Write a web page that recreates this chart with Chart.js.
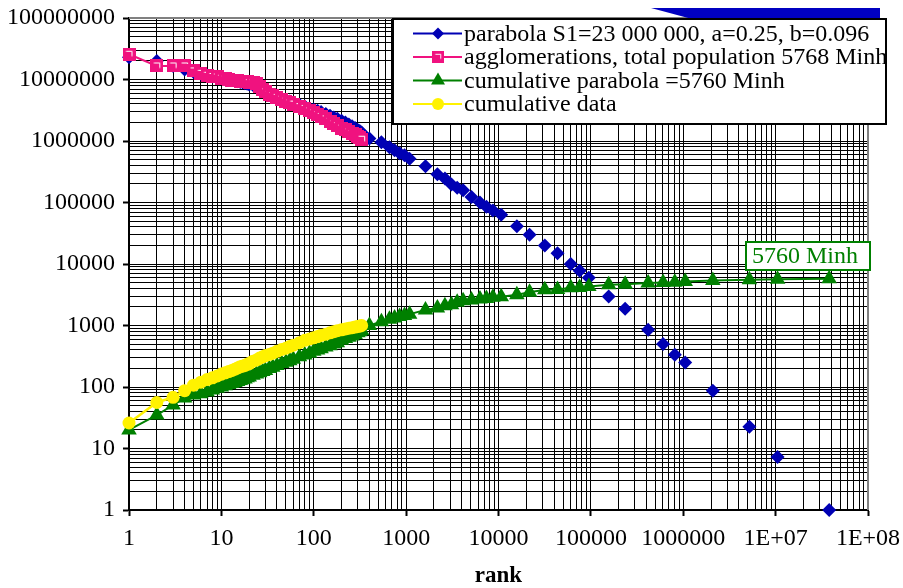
<!DOCTYPE html>
<html><head><meta charset="utf-8">
<script src="https://cdn.jsdelivr.net/npm/chart.js@4/dist/chart.umd.min.js"></script>
<style>html,body{margin:0;padding:0;background:#fff;}canvas{display:block;}</style>
</head><body>
<canvas id="c" width="903" height="588"></canvas>
<script>
// ---------- data ----------
const xTickLabels = ['1','10','100','1000','10000','100000','1000000','1E+07','1E+08'];
const yTickLabels = ['1','10','100','1000','10000','100000','1000000','10000000','100000000'];
const seriesLabels = [
  'parabola S1=23 000 000, a=0.25, b=0.096',
  'agglomerations, total population 5768 Minh',
  'cumulative parabola =5760 Minh',
  'cumulative data'
];
const annotationText = '5760 Minh';
const axisTitle = 'rank';

const denseRanks = [1,2,3,4,5,6,7,8,9,10,11,12,13,14,15,16,17,18,19,20,22,24,26,28,30,33,36,40,45,50,55,60,70,80,90,100,110,120,135,150,165,180,200,220,240,260,280,300,315,330];

const parabolaDense = [23000000,20000000,16600000,14500000,13200000,12300000,11700000,11200000,10700000,10500000,10200000,10000000,9770000,9550000,9330000,9120000,8910000,8710000,8510000,8320000,8130000,7760000,7240000,6760000,6310000,5890000,5500000,5130000,4790000,4570000,4370000,4170000,3890000,3630000,3390000,3240000,3090000,2950000,2750000,2570000,2400000,2290000,2140000,2000000,1860000,1740000,1620000,1510000,1450000,1380000];

const agglomerations = [25700000,16600000,16600000,16600000,13800000,12600000,11700000,11200000,11000000,10500000,10200000,10000000,9800000,9800000,9550000,9330000,9330000,9120000,9120000,8910000,8910000,8510000,7590000,6920000,6310000,5750000,5500000,5130000,4790000,4470000,4170000,3980000,3630000,3390000,3090000,2880000,2690000,2510000,2290000,2090000,1910000,1780000,1620000,1510000,1410000,1320000,1260000,1200000,1150000,1070000];

const cumParabolaDense = [20,35,51,66,74,78,83,89,95,100,105,110,114,118,123,127,131,135,141,145,155,163,171,179,186,199,210,224,240,252,268,282,309,331,355,380,398,417,447,468,501,525,575,617,646,676,716,760,795,830];

const cumData = [26,56,68,87,107,120,132,141,151,162,170,178,186,195,204,214,219,224,234,240,263,275,295,309,324,339,355,380,407,427,457,479,525,575,603,631,661,692,724,759,794,822,851,881,902,923,944,966,977,1000];

const tailRanks = [400,540,660,750,850,960,1090,1620,2180,2630,3100,3570,4140,5100,6300,7400,8700,10700,15800,21700,31700,43500,60600,75600,95000,156000,235000,417000,605000,810000,1050000,2090000,5200000,10500000,38000000];

const parabolaTail = [1100000,955000,795000,705000,630000,585000,515000,390000,288000,245000,196000,174000,158000,123000,100000,85000,74000,63000,41000,30000,20000,14900,10000,7800,6000,2960,1870,850,500,335,250,87,22.5,7.3,1];

const cumParabolaTail = [1000,1150,1260,1330,1400,1460,1530,1790,1930,2100,2180,2380,2520,2600,2700,2760,2870,2940,3170,3460,3800,3850,4100,4150,4300,4600,4700,4900,5000,5050,5200,5400,5550,5650,5760];

// ---------- colours ----------
const BLUE = '#0000b4', PINK = '#f0127f', GREEN = '#008000', YELLOW = '#fff200';
const FONT = "'Liberation Serif', 'Times New Roman', serif";

const pts = (xs, ys) => xs.map((x, i) => ({x, y: ys[i]}));

// pink square marker with white inner outline
function pinkMarker() {
  const c = document.createElement('canvas');
  c.width = 13; c.height = 13;
  const g = c.getContext('2d');
  g.fillStyle = PINK; g.fillRect(0, 0, 13, 13);
  g.strokeStyle = '#fff'; g.lineWidth = 1;
  g.beginPath(); g.moveTo(3.5, 3.5); g.lineTo(9.5, 3.5); g.lineTo(9.5, 8.5); g.stroke();
  return c;
}
const pinkImg = pinkMarker();

function buildLogTicks(scale) {
  const t = [];
  for (let e = 0; e <= 8; e++) {
    for (let m = 1; m <= 9; m++) {
      const v = m * Math.pow(10, e);
      if (v > 1e8) break;
      t.push({value: v, major: m === 1});
    }
  }
  scale.ticks = t;
}
function labelFor(arr) {
  return function (v) {
    const e = Math.round(Math.log10(v));
    if (Math.abs(v - Math.pow(10, e)) < 1e-6 * v) return arr[e];
    return '';
  };
}

const frame = {
  id: 'frame',
  beforeDatasetsDraw(chart) {
    const {ctx, chartArea: a} = chart;
    ctx.save();
    ctx.strokeStyle = '#808080'; ctx.lineWidth = 2;
    ctx.beginPath();
    ctx.moveTo(a.left, a.top); ctx.lineTo(a.right, a.top); ctx.lineTo(a.right, a.bottom);
    ctx.stroke();
    ctx.restore();
  },
  afterDraw(chart) {
    const ctx = chart.ctx;
    ctx.save();
    // blue wedge above legend
    ctx.fillStyle = '#0000c0';
    ctx.beginPath();
    ctx.moveTo(651, 8); ctx.lineTo(880, 8); ctx.lineTo(880, 21); ctx.lineTo(692, 19); ctx.closePath();
    ctx.fill();
    // legend box
    const bx = 393, by = 19, bw = 493, bh = 105;
    ctx.fillStyle = '#fff'; ctx.fillRect(bx, by, bw, bh);
    ctx.lineWidth = 2; ctx.strokeStyle = '#000'; ctx.strokeRect(bx, by, bw, bh);
    const rows = [33.5, 57, 80.5, 104];
    const cols = [BLUE, PINK, GREEN, YELLOW];
    ctx.save();
    ctx.beginPath(); ctx.rect(bx + 1, by + 1, bw - 2, bh - 2); ctx.clip();
    rows.forEach((y, i) => {
      ctx.strokeStyle = cols[i]; ctx.lineWidth = 2;
      ctx.beginPath(); ctx.moveTo(413, y); ctx.lineTo(462, y); ctx.stroke();
      const cx = 438;
      ctx.fillStyle = cols[i];
      ctx.beginPath();
      if (i === 0) { ctx.moveTo(cx, y - 6); ctx.lineTo(cx + 6, y); ctx.lineTo(cx, y + 6); ctx.lineTo(cx - 6, y); ctx.closePath(); ctx.fill(); }
      else if (i === 1) { ctx.drawImage(pinkImg, cx - 6, y - 6, 12, 12); }
      else if (i === 2) { ctx.moveTo(cx, y - 8); ctx.lineTo(cx + 7, y + 4); ctx.lineTo(cx - 7, y + 4); ctx.closePath(); ctx.fill(); }
      else { ctx.arc(cx, y, 6, 0, Math.PI * 2); ctx.fill(); }
      ctx.fillStyle = '#000';
      ctx.font = '24px ' + FONT;
      ctx.textBaseline = 'middle'; ctx.textAlign = 'left';
      ctx.fillText(seriesLabels[i], 464, y + 1);
    });
    ctx.restore();
    // annotation
    ctx.fillStyle = '#fff'; ctx.fillRect(746, 242, 124, 28);
    ctx.strokeStyle = GREEN; ctx.lineWidth = 2; ctx.strokeRect(746, 242, 124, 28);
    ctx.fillStyle = GREEN; ctx.font = '24px ' + FONT;
    ctx.textBaseline = 'middle'; ctx.textAlign = 'left';
    ctx.fillText(annotationText, 752, 257);
    ctx.restore();
  }
};

const tickColor = c => (c.tick && c.tick.major) ? '#000' : 'rgba(0,0,0,0)';

new Chart(document.getElementById('c'), {
  type: 'scatter',
  data: {
    datasets: [
      {label: seriesLabels[0], data: pts(denseRanks.concat(tailRanks), parabolaDense.concat(parabolaTail)),
       showLine: false, pointStyle: 'rectRot', pointRadius: 7, pointBackgroundColor: BLUE, pointBorderColor: BLUE, pointBorderWidth: 0, order: 4, clip: false},
      {label: seriesLabels[1], data: pts(denseRanks, agglomerations),
       showLine: true, borderColor: PINK, borderWidth: 2, pointStyle: pinkImg, pointRadius: 7, pointBackgroundColor: PINK, order: 3, clip: false},
      {label: seriesLabels[2], data: pts(denseRanks.concat(tailRanks), cumParabolaDense.concat(cumParabolaTail)),
       showLine: true, borderColor: GREEN, borderWidth: 2, pointStyle: 'triangle', pointRadius: 9, pointBackgroundColor: GREEN, pointBorderColor: GREEN, pointBorderWidth: 0, order: 2, clip: false},
      {label: seriesLabels[3], data: pts(denseRanks, cumData),
       showLine: true, borderColor: YELLOW, borderWidth: 2.5, pointStyle: 'circle', pointRadius: 6.5, pointBackgroundColor: YELLOW, pointBorderColor: YELLOW, pointBorderWidth: 0, order: 1, clip: false}
    ]
  },
  options: {
    responsive: false, animation: false, devicePixelRatio: 1,
    layout: {padding: {left: 0, top: 18, right: 35, bottom: 0}},
    plugins: {legend: {display: false}, tooltip: {enabled: false}},
    scales: {
      x: {
        type: 'logarithmic', min: 1, max: 1e8,
        afterBuildTicks: buildLogTicks,
        afterFit: s => { s.height = 78; s.paddingLeft = 0; s.paddingRight = 0; },
        grid: {color: '#000', lineWidth: 1, drawTicks: true, tickLength: 6, tickColor: tickColor, tickWidth: 2},
        border: {display: true, color: '#000', width: 2},
        ticks: {autoSkip: false, maxRotation: 0, minRotation: 0, padding: 8, color: '#000',
                font: {family: FONT, size: 24}, callback: labelFor(xTickLabels)},
        title: {display: true, text: axisTitle, color: '#000', padding: {top: 0, bottom: 0},
                font: {family: FONT, size: 23, weight: 'bold', lineHeight: 1}}
      },
      y: {
        type: 'logarithmic', min: 1, max: 1e8,
        afterBuildTicks: buildLogTicks,
        afterFit: s => { s.width = 129; s.paddingTop = 0; s.paddingBottom = 0; },
        grid: {color: '#000', lineWidth: 1, drawTicks: true, tickLength: 6, tickColor: tickColor, tickWidth: 2},
        border: {display: true, color: '#000', width: 2},
        ticks: {autoSkip: false, padding: 8, color: '#000',
                font: {family: FONT, size: 24}, callback: labelFor(yTickLabels)}
      }
    }
  },
  plugins: [frame]
});
</script>
</body></html>
